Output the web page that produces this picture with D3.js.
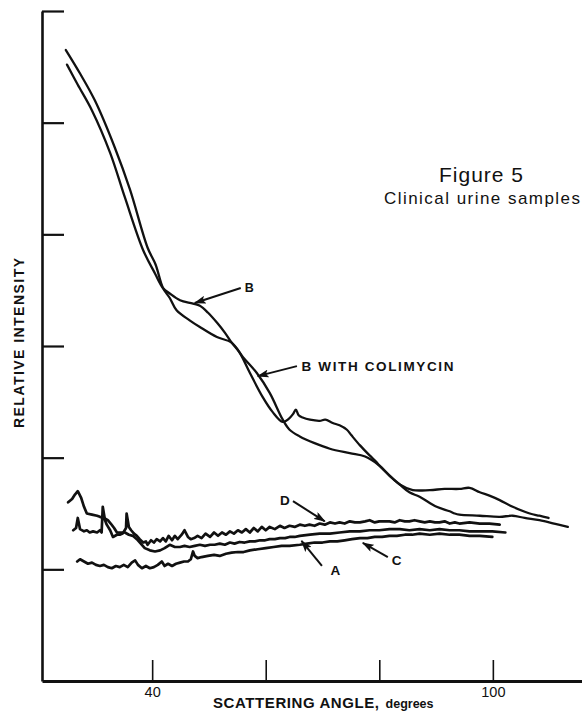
<!DOCTYPE html>
<html>
<head>
<meta charset="utf-8">
<script src="https://cdn.jsdelivr.net/npm/d3@7"></script>
<style>
  html, body { margin: 0; padding: 0; background: #fff; }
  svg { display: block; font-family: "Liberation Sans", Arial, Helvetica, sans-serif; }
</style>
</head>
<body>
<svg id="chart" width="582" height="713"></svg>
<script>
// Scattering angle (degrees) vs relative intensity, clinical urine samples.

const xTicks = [40, 60, 80, 100];
const xLabelled = [40, 100];
const yTicks = [1, 2, 3, 4, 5, 6];

// Sample B
const sampleB = [
  [25.0, 5.52], [26.9, 5.34], [29.4, 5.11], [32.6, 4.73], [35.2, 4.33], [38.4, 3.86],
  [40.5, 3.65], [41.9, 3.52], [43.1, 3.47], [44.9, 3.41], [47.2, 3.38], [48.4, 3.36],
  [49.8, 3.30], [51.4, 3.21], [52.8, 3.12], [54.0, 3.03], [55.4, 2.94], [57.2, 2.76],
  [59.5, 2.54], [61.2, 2.41], [63.0, 2.32], [64.1, 2.35], [64.8, 2.39], [65.3, 2.43],
  [65.8, 2.38], [66.5, 2.36], [67.8, 2.34], [69.5, 2.33], [70.5, 2.34], [71.8, 2.31],
  [73.0, 2.29], [74.3, 2.25], [75.1, 2.20], [76.6, 2.11], [78.3, 2.02], [79.5, 1.96],
  [80.0, 1.93], [81.8, 1.84], [83.6, 1.76], [85.3, 1.69], [87.1, 1.65], [90.1, 1.56],
  [92.4, 1.52], [93.3, 1.50], [94.1, 1.49], [97.7, 1.48], [101.2, 1.47], [103.5, 1.48],
  [105.6, 1.46], [108.2, 1.44], [110.8, 1.41], [113.2, 1.38]
];

// Sample B with colimycin
const sampleBColimycin = [
  [24.8, 5.65], [27.3, 5.44], [29.9, 5.20], [33.4, 4.78], [36.1, 4.40], [39.2, 3.88],
  [40.6, 3.73], [41.9, 3.52], [43.1, 3.43], [44.3, 3.32], [46.6, 3.23], [48.4, 3.17],
  [51.4, 3.08], [54.0, 3.03], [56.0, 2.90], [58.4, 2.76], [60.7, 2.58], [63.0, 2.34],
  [64.2, 2.25], [66.0, 2.19], [68.6, 2.13], [71.3, 2.08], [74.8, 2.04], [77.5, 2.01],
  [80.0, 1.93], [81.8, 1.84], [83.6, 1.76], [85.9, 1.71], [88.9, 1.71], [91.5, 1.72],
  [94.1, 1.72], [95.9, 1.73], [97.7, 1.69], [99.4, 1.66], [101.2, 1.62], [103.5, 1.56],
  [106.5, 1.50], [108.2, 1.48], [109.8, 1.46]
];

// Sample D
const sampleD = [
  [26.1, 1.35], [26.6, 1.37], [26.9, 1.46], [27.3, 1.36], [28.0, 1.34], [28.5, 1.35],
  [29.0, 1.33], [29.6, 1.34], [30.3, 1.33], [30.8, 1.35], [31.1, 1.33], [31.3, 1.56],
  [31.7, 1.44], [32.0, 1.40], [32.6, 1.35], [33.1, 1.29], [33.8, 1.31], [34.3, 1.31],
  [34.8, 1.32], [35.4, 1.37], [35.5, 1.50], [35.9, 1.38], [36.3, 1.35], [36.8, 1.32],
  [37.3, 1.30], [37.8, 1.27], [38.4, 1.24], [38.9, 1.25], [39.2, 1.22], [39.8, 1.26],
  [40.3, 1.24], [40.8, 1.27], [41.4, 1.25], [41.9, 1.28], [42.4, 1.25], [42.9, 1.30],
  [43.5, 1.26], [44.0, 1.30], [44.5, 1.27], [45.2, 1.31], [45.7, 1.35], [46.3, 1.29],
  [46.8, 1.27], [47.4, 1.28], [48.0, 1.30], [48.7, 1.28], [49.4, 1.32], [50.2, 1.29],
  [50.9, 1.33], [51.6, 1.30], [52.3, 1.33], [53.0, 1.31], [53.7, 1.34], [54.4, 1.32],
  [55.1, 1.35], [55.8, 1.33], [56.5, 1.36], [57.2, 1.33], [57.9, 1.37], [58.6, 1.34],
  [59.3, 1.38], [60.0, 1.35], [60.7, 1.38], [61.6, 1.36], [62.5, 1.39], [63.3, 1.37],
  [64.2, 1.39], [65.1, 1.38], [66.0, 1.40], [66.9, 1.39], [67.7, 1.40], [68.6, 1.39],
  [69.5, 1.41], [70.4, 1.40], [71.3, 1.42], [72.2, 1.41], [73.0, 1.42], [73.9, 1.41],
  [74.8, 1.43], [75.7, 1.42], [76.6, 1.42], [77.5, 1.43], [78.3, 1.44], [79.2, 1.42],
  [80.0, 1.43], [81.8, 1.43], [82.7, 1.42], [83.6, 1.44], [84.5, 1.43], [85.3, 1.43],
  [86.2, 1.44], [87.1, 1.43], [88.0, 1.42], [88.9, 1.43], [89.8, 1.42], [90.6, 1.42],
  [91.5, 1.43], [92.4, 1.41], [93.3, 1.42], [94.1, 1.41], [95.9, 1.42], [97.7, 1.41],
  [99.4, 1.41], [101.2, 1.40]
];

// Sample A
const sampleA = [
  [25.2, 1.60], [25.9, 1.63], [26.4, 1.67], [26.9, 1.70], [27.5, 1.64], [28.0, 1.56],
  [28.5, 1.50], [29.4, 1.49], [30.3, 1.48], [30.8, 1.47], [31.5, 1.46], [32.2, 1.44],
  [32.7, 1.41], [33.3, 1.37], [33.8, 1.33], [34.5, 1.33], [35.2, 1.33], [35.9, 1.31],
  [36.6, 1.30], [37.3, 1.27], [38.0, 1.23], [38.7, 1.19], [39.6, 1.17], [40.5, 1.16],
  [41.4, 1.17], [42.2, 1.19], [43.1, 1.22], [44.0, 1.20], [44.9, 1.20], [45.7, 1.21],
  [46.6, 1.20], [47.5, 1.21], [48.4, 1.22], [49.3, 1.21], [50.2, 1.22], [51.0, 1.22],
  [51.9, 1.23], [52.8, 1.22], [53.7, 1.24], [54.5, 1.23], [55.4, 1.245], [56.3, 1.24],
  [57.2, 1.25], [58.1, 1.25], [59.0, 1.26], [59.9, 1.26], [60.7, 1.27], [61.6, 1.27],
  [62.5, 1.28], [63.4, 1.28], [64.2, 1.29], [65.1, 1.29], [66.0, 1.30], [67.8, 1.31],
  [69.5, 1.32], [71.3, 1.32], [73.0, 1.33], [74.8, 1.34], [76.6, 1.34], [78.3, 1.35],
  [80.0, 1.35], [81.8, 1.36], [83.6, 1.36], [85.3, 1.35], [87.1, 1.36], [88.9, 1.35],
  [90.6, 1.36], [92.4, 1.35], [94.1, 1.35], [95.9, 1.34], [97.7, 1.34], [99.9, 1.34],
  [102.2, 1.33]
];

// Sample C
const sampleC = [
  [26.8, 1.07], [27.3, 1.09], [28.0, 1.07], [28.7, 1.05], [29.4, 1.06], [30.1, 1.04],
  [30.8, 1.03], [31.5, 1.04], [32.2, 1.02], [32.9, 1.01], [33.6, 1.03], [34.3, 1.02],
  [35.0, 1.04], [35.7, 1.02], [36.4, 1.06], [37.0, 1.08], [37.5, 1.04], [38.2, 1.01],
  [38.9, 1.03], [39.6, 1.01], [40.3, 1.02], [41.0, 1.04], [41.7, 1.07], [42.2, 1.03],
  [42.8, 1.05], [43.5, 1.03], [44.2, 1.05], [44.9, 1.06], [45.6, 1.07], [46.3, 1.07],
  [46.8, 1.09], [47.2, 1.16], [47.5, 1.12], [48.0, 1.10], [48.7, 1.11], [49.8, 1.12],
  [50.9, 1.13], [51.9, 1.12], [53.0, 1.14], [54.0, 1.15], [55.1, 1.155], [56.1, 1.155],
  [57.2, 1.17], [58.6, 1.18], [60.0, 1.19], [61.4, 1.20], [62.8, 1.21], [64.2, 1.21],
  [66.0, 1.22], [67.3, 1.23], [68.6, 1.24], [70.0, 1.24], [71.3, 1.25], [72.6, 1.25],
  [73.9, 1.26], [75.2, 1.27], [76.6, 1.28], [77.9, 1.28], [79.2, 1.29], [80.5, 1.29],
  [81.8, 1.30], [83.1, 1.30], [84.5, 1.31], [85.8, 1.31], [87.1, 1.32], [88.9, 1.31],
  [90.6, 1.32], [92.4, 1.31], [94.1, 1.31], [95.9, 1.30], [97.7, 1.30], [99.9, 1.29]
];

// Annotation arrows and their labels, in data units
const arrowLabels = ["B", "B WITH COLIMYCIN", "D", "A", "C"];
const arrowTails = [[55.6, 3.52], [65.5, 2.82], [64.8, 1.61], [69.9, 1.03], [81.5, 1.11]];
const arrowTips  = [[47.5, 3.385], [58.6, 2.73], [70.4, 1.43], [66.3, 1.254], [77.1, 1.236]];
const labelAnchors = [[56.3, 3.48], [66.3, 2.78], [62.5, 1.576], [71.4, 0.95], [82.2, 1.04]];

const svg = d3.select("#chart");
const ink = "#111";

const x = d3.scaleLinear().domain([20.6, 115.7]).range([42, 582]);
const y = d3.scaleLinear().domain([0, 6]).range([681, 11]);

// Axes
const gx = svg.append("g")
  .attr("transform", `translate(0,${y(0)})`)
  .call(d3.axisBottom(x)
    .tickValues(xTicks)
    .tickSize(-21)
    .tickSizeOuter(0)
    .tickPadding(6)
    .tickFormat(d => xLabelled.includes(d) ? String(d) : ""));
gx.select(".domain").attr("stroke", ink).attr("stroke-width", 2.8);
gx.selectAll(".tick line").attr("stroke", ink).attr("stroke-width", 1.6);
gx.selectAll(".tick text").attr("fill", ink).attr("font-size", 14.5)
  .attr("font-family", "Liberation Sans, Arial, sans-serif");

const gy = svg.append("g")
  .attr("transform", `translate(${x.range()[0]},0)`)
  .call(d3.axisRight(y)
    .tickValues(yTicks)
    .tickSize(22)
    .tickSizeOuter(0)
    .tickFormat(""));
gy.select(".domain").attr("stroke", ink).attr("stroke-width", 2.6);
gy.selectAll(".tick line").attr("stroke", ink).attr("stroke-width", 2.2);

// Curves
const smooth = d3.line().x(d => x(d[0])).y(d => y(d[1])).curve(d3.curveCatmullRom.alpha(0.5));
const rough = d3.line().x(d => x(d[0])).y(d => y(d[1])).curve(d3.curveLinear);

[sampleB, sampleBColimycin].forEach(s => {
  svg.append("path").attr("d", smooth(s))
    .attr("fill", "none").attr("stroke", ink).attr("stroke-width", 2.3)
    .attr("stroke-linejoin", "round").attr("stroke-linecap", "round");
});
[sampleD, sampleA, sampleC].forEach(s => {
  svg.append("path").attr("d", rough(s))
    .attr("fill", "none").attr("stroke", ink).attr("stroke-width", 2.7)
    .attr("stroke-linejoin", "round").attr("stroke-linecap", "round");
});

// Arrow markers
svg.append("defs").append("marker")
  .attr("id", "head")
  .attr("markerUnits", "userSpaceOnUse")
  .attr("viewBox", "0 0 12 8")
  .attr("refX", 11).attr("refY", 4)
  .attr("markerWidth", 12).attr("markerHeight", 8)
  .attr("orient", "auto")
  .append("path").attr("d", "M0,0 L12,4 L0,8 L2.5,4 Z").attr("fill", ink);

arrowTails.forEach((t, i) => {
  svg.append("line")
    .attr("x1", x(t[0])).attr("y1", y(t[1]))
    .attr("x2", x(arrowTips[i][0])).attr("y2", y(arrowTips[i][1]))
    .attr("stroke", ink).attr("stroke-width", 2)
    .attr("marker-end", "url(#head)");
});

const labelSizes = [12.5, 13.5, 13.5, 13.5, 13.5];
const labelWidths = [null, 152, null, null, null];
arrowLabels.forEach((t, i) => {
  const txt = svg.append("text")
    .attr("x", x(labelAnchors[i][0])).attr("y", y(labelAnchors[i][1]))
    .attr("font-size", labelSizes[i]).attr("font-weight", "bold")
    .attr("fill", ink).text(t);
  if (labelWidths[i]) txt.attr("textLength", labelWidths[i]);
});

// Axis titles
const xt = svg.append("text")
  .attr("x", 213).attr("y", 708)
  .attr("font-weight", "bold").attr("fill", ink);
xt.append("tspan").attr("font-size", 15).attr("textLength", 166).text("SCATTERING ANGLE,");
xt.append("tspan").attr("font-size", 12.5).attr("dx", 6).text("degrees");

svg.append("text")
  .attr("transform", "translate(24,343) rotate(-90)")
  .attr("text-anchor", "middle")
  .attr("font-size", 14).attr("font-weight", "bold").attr("fill", ink)
  .attr("textLength", 170)
  .text("RELATIVE INTENSITY");

// Figure caption
svg.append("text")
  .attr("x", 481).attr("y", 182).attr("text-anchor", "middle")
  .attr("font-size", 21).attr("fill", ink).attr("textLength", 84)
  .text("Figure 5");
svg.append("text")
  .attr("x", 482).attr("y", 204).attr("text-anchor", "middle")
  .attr("font-size", 17).attr("fill", ink).attr("textLength", 196)
  .text("Clinical urine samples");
</script>
</body>
</html>
